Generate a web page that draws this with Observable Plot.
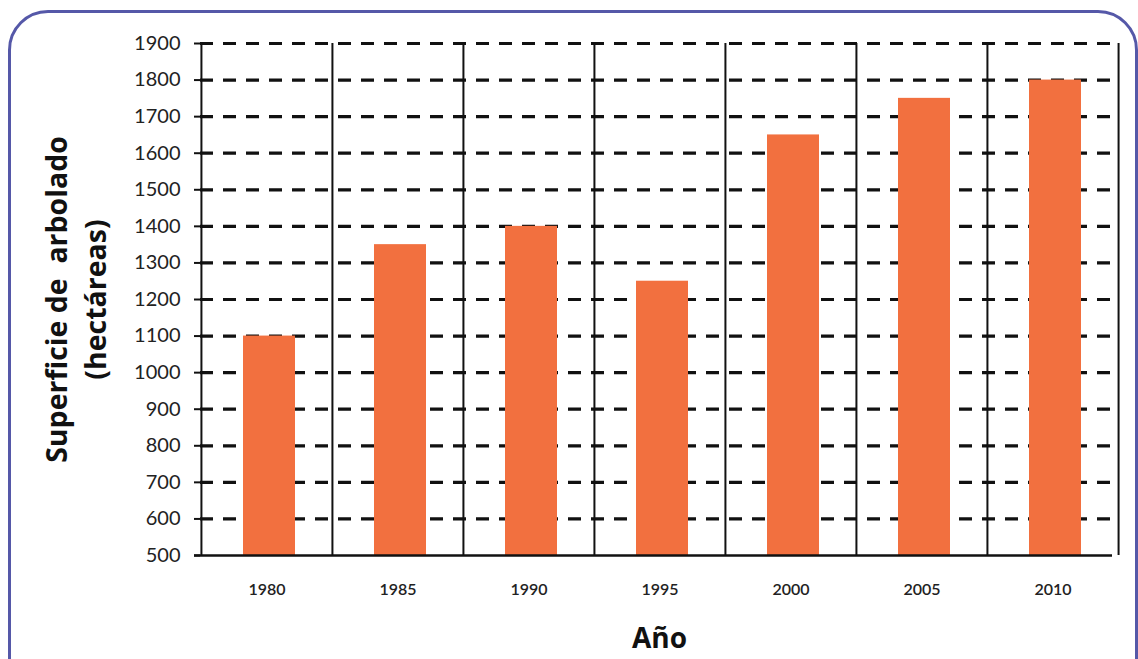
<!DOCTYPE html>
<html><head><meta charset="utf-8">
<script src="https://cdn.jsdelivr.net/npm/d3@7"></script>
<script src="https://cdn.jsdelivr.net/npm/@observablehq/plot@0.6"></script>
<style>
body{margin:0;background:#fff;overflow:hidden;}
#wrap{position:relative;width:1138px;height:659px;}
#frame{position:absolute;left:8px;top:10px;width:1124px;height:720px;border:3px solid #5558a8;border-radius:40px;pointer-events:none;}
#chart{position:absolute;left:0;top:0;}
g[aria-label="y-axis tick label"]{font-size:20px;font-family:Lato,sans-serif;fill:#222;}
g[aria-label="x-axis tick label"]{font-size:16px;font-weight:600;font-family:Lato,sans-serif;fill:#222;}
</style></head><body><div id="wrap"><div id="chart"></div><div id="frame"></div></div>
<script>
const years = ["1980","1985","1990","1995","2000","2005","2010"];
const values = [1100,1350,1400,1250,1650,1750,1800];
const yTicks = [500,600,700,800,900,1000,1100,1200,1300,1400,1500,1600,1700,1800,1900];
const yTitle = ["Superficie de  arbolado","(hectáreas)"];
const xTitle = "Año";

const data = years.map((y,i)=>({year:y, value:values[i]}));
const W = 1138, H = 659, ML = 200, MR = 20, MT = 43, MB = 104;
const bw = (W - ML - MR) / years.length;

const chart = Plot.plot({
  width: W, height: H,
  marginLeft: ML, marginRight: MR, marginTop: MT, marginBottom: MB,
  style: {fontFamily: "Lato, sans-serif", background: "transparent", color: "#111"},
  x: {type: "band", domain: years, padding: 0},
  y: {domain: [500, 1900]},
  marks: [
    Plot.ruleY(yTicks.filter(d => d > 500), {y: d => d, stroke: "#111", strokeWidth: 3.2, strokeDasharray: "13,10"}),
    Plot.barY(data, {x: "year", y1: 500, y2: "value", fill: "#F2703F", insetLeft: 42, insetRight: 37}),
    Plot.ruleX(years, {x: d => d, y1: 500, y2: 1900, dx: -bw/2, stroke: "#111", strokeWidth: 2}),
    Plot.ruleX([years[years.length-1]], {x: d => d, y1: 500, y2: 1900, dx: bw/2, stroke: "#111", strokeWidth: 2}),
    Plot.ruleY([500], {stroke: "#111", strokeWidth: 2.5, dx: -6}),
    Plot.axisY({ticks: yTicks, tickFormat: d => String(d), tickSize: 6, tickPadding: 14, label: null, strokeWidth: 2, fontSize: 20}),
    Plot.axisX({tickSize: 0, tickPadding: 28, label: null, fontSize: 16}),
    Plot.text([yTitle[0]], {frameAnchor: "left", textAnchor: "middle", lineAnchor: "middle", dx: -143, rotate: -90, text: d => d, fontSize: 28.5, fontWeight: "bold", fontFamily: "'Open Sans', sans-serif", fill: "#111"}),
    Plot.text([yTitle[1]], {frameAnchor: "left", textAnchor: "middle", lineAnchor: "middle", dx: -104, rotate: -90, text: d => d, fontSize: 28.5, fontWeight: "bold", fontFamily: "'Open Sans', sans-serif", fill: "#111"}),
    Plot.text([xTitle], {frameAnchor: "bottom", dy: 92, text: d => d, fontSize: 28, fontWeight: "bold", fontFamily: "'Open Sans', sans-serif", fill: "#111"})
  ]
});
document.getElementById("chart").appendChild(chart);
</script>
</body></html>
